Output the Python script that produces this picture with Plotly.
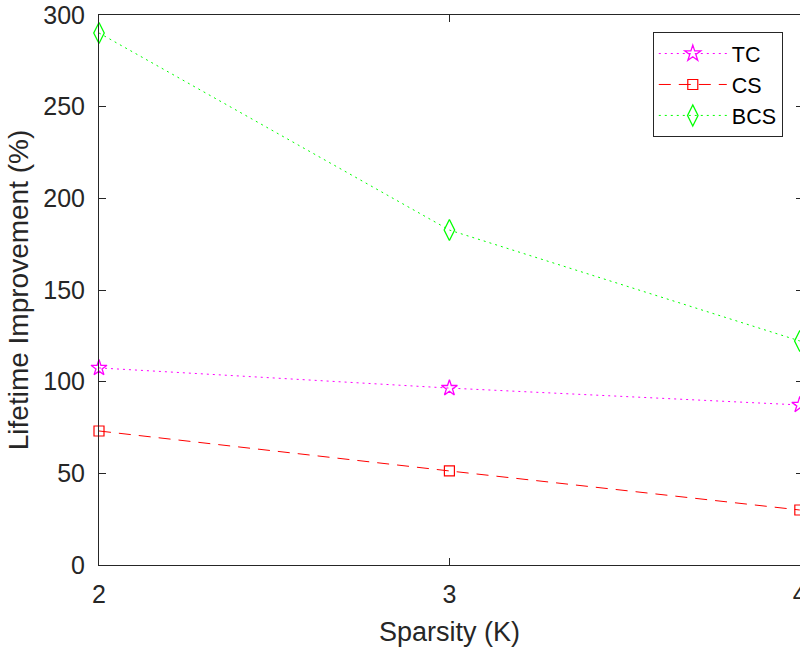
import plotly.graph_objects as go

# Sparsity levels and lifetime improvement per scheme (%)
sparsity = [2, 3, 4]
tc_values = [107.5, 96.5, 87.3]
cs_values = [73.1, 51.3, 30.0]
bcs_values = [290.2, 182.7, 122.2]

y_ticks = [0, 50, 100, 150, 200, 250, 300]
x_ticks = [2, 3, 4]

AXIS_COLOR = "#262626"
FONT = "Liberation Sans, Arial, Helvetica, sans-serif"

fig = go.Figure()

fig.add_trace(go.Scatter(
    x=sparsity, y=tc_values, name="TC", mode="lines+markers",
    line=dict(color="#ff00ff", width=1, dash="2px,4px"),
    marker=dict(symbol="star-open", size=12, color="#ff00ff", line=dict(width=1.3)),
    cliponaxis=False,
))
fig.add_trace(go.Scatter(
    x=sparsity, y=cs_values, name="CS", mode="lines+markers",
    line=dict(color="#ff0000", width=1, dash="12px,8px"),
    marker=dict(symbol="square-open", size=10, color="#ff0000", line=dict(width=1.2)),
    cliponaxis=False,
))
fig.add_trace(go.Scatter(
    x=sparsity, y=bcs_values, name="BCS", mode="lines+markers",
    line=dict(color="#00ff00", width=1, dash="2px,4px"),
    marker=dict(symbol="diamond-tall-open", size=15, color="#00ff00", line=dict(width=1.3)),
    cliponaxis=False,
))

# right-hand tick marks of the box
fig.add_trace(go.Scatter(x=[None], y=[None], yaxis="y2", showlegend=False, hoverinfo="skip"))

fig.update_layout(
    width=800, height=652,
    margin=dict(l=99, r=0, t=15, b=87, autoexpand=False),
    paper_bgcolor="white", plot_bgcolor="white",
    font=dict(family=FONT, color=AXIS_COLOR),
    xaxis=dict(
        range=[2, 4.0005], tickvals=x_ticks, ticktext=[str(v) for v in x_ticks],
        showgrid=False, zeroline=False, automargin=False,
        showline=True, linecolor=AXIS_COLOR, linewidth=1, mirror="ticks",
        ticks="inside", ticklen=7, tickcolor=AXIS_COLOR, tickwidth=1,
        tickfont=dict(size=25, color=AXIS_COLOR), ticklabelstandoff=7,
        ticklabeloverflow="allow",
        title=dict(text="Sparsity (K)", font=dict(size=27, color=AXIS_COLOR), standoff=15),
    ),
    yaxis=dict(
        range=[0, 300], tickvals=y_ticks, automargin=False,
        showgrid=False, zeroline=False,
        showline=True, linecolor=AXIS_COLOR, linewidth=1,
        ticks="inside", ticklen=7, tickcolor=AXIS_COLOR, tickwidth=1,
        tickfont=dict(size=25, color=AXIS_COLOR), ticklabelstandoff=8,
        title=dict(text="Lifetime Improvement (%)", font=dict(size=28, color=AXIS_COLOR), standoff=6),
    ),
    yaxis2=dict(
        range=[0, 300], tickvals=y_ticks, overlaying="y", side="right", automargin=False,
        showgrid=False, zeroline=False, showline=False, showticklabels=False,
        ticks="inside", ticklen=4, tickcolor=AXIS_COLOR, tickwidth=1,
    ),
    legend=dict(
        x=0.79, y=0.969, xanchor="left", yanchor="top",
        bgcolor="white", bordercolor=AXIS_COLOR, borderwidth=1,
        font=dict(size=21.5, color="black", family=FONT),
        itemwidth=68, tracegroupgap=0,
    ),
    showlegend=True,
)

fig.write_html("out.html")
